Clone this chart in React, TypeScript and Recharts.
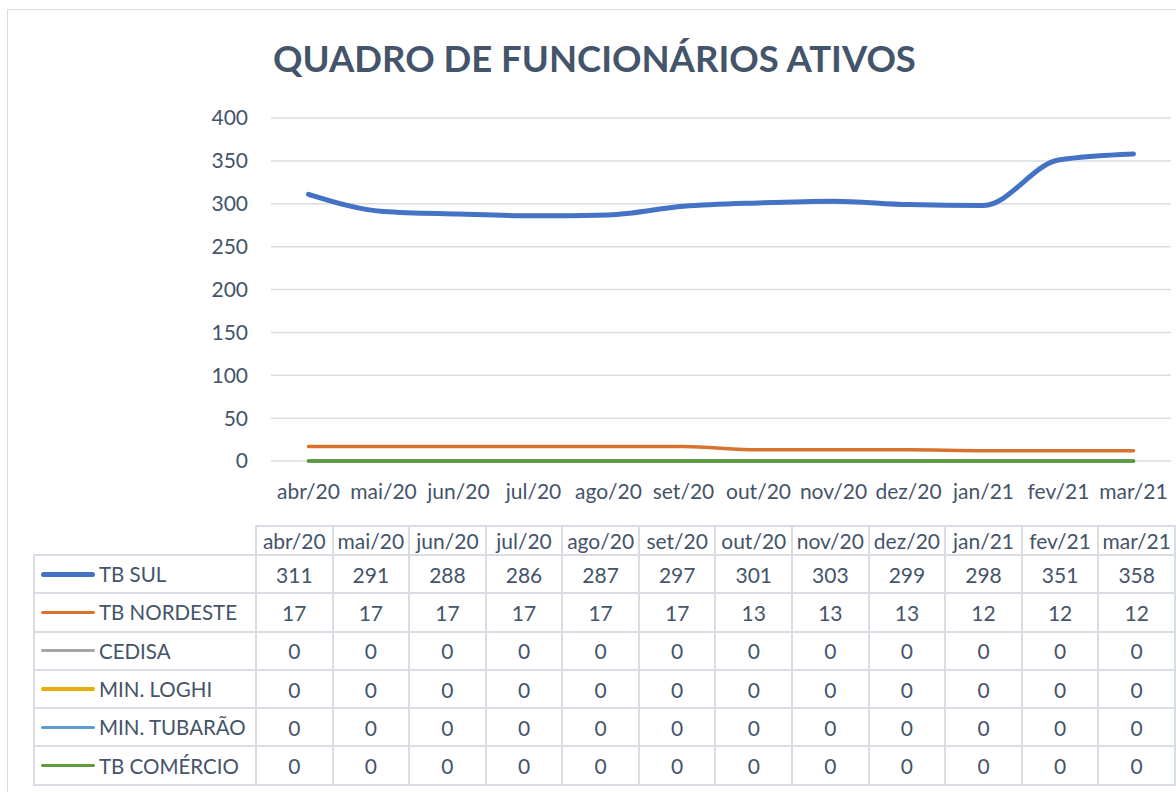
import React from 'react';
import { LineChart, Line, XAxis, YAxis, CartesianGrid } from 'recharts';

const months = ['abr/20', 'mai/20', 'jun/20', 'jul/20', 'ago/20', 'set/20', 'out/20', 'nov/20', 'dez/20', 'jan/21', 'fev/21', 'mar/21'];

const tbSul = [311, 291, 288, 286, 287, 297, 301, 303, 299, 298, 351, 358];
const tbNordeste = [17, 17, 17, 17, 17, 17, 13, 13, 13, 12, 12, 12];
const cedisa = [0, 0, 0, 0, 0, 0, 0, 0, 0, 0, 0, 0];
const minLoghi = [0, 0, 0, 0, 0, 0, 0, 0, 0, 0, 0, 0];
const minTubarao = [0, 0, 0, 0, 0, 0, 0, 0, 0, 0, 0, 0];
const tbComercio = [0, 0, 0, 0, 0, 0, 0, 0, 0, 0, 0, 0];

const yTicks = [0, 50, 100, 150, 200, 250, 300, 350, 400];

const TEXT = '#44546A';
const GRID = '#d9dde3';
const FONT = 'Lato, "Open Sans", sans-serif';

const SERIES = [
  { key: 'tbSul', name: 'TB SUL', color: '#4472C4', width: 5, values: tbSul },
  { key: 'tbNordeste', name: 'TB NORDESTE', color: '#D9712F', width: 3.5, values: tbNordeste },
  { key: 'cedisa', name: 'CEDISA', color: '#A5A5A5', width: 3.5, values: cedisa },
  { key: 'minLoghi', name: 'MIN. LOGHI', color: '#E8AD00', width: 3.5, values: minLoghi },
  { key: 'minTubarao', name: 'MIN. TUBARÃO', color: '#5B9BD5', width: 3.5, values: minTubarao },
  { key: 'tbComercio', name: 'TB COMÉRCIO', color: '#5E9C3A', width: 3.5, values: tbComercio },
];

// x position = middle of each month's slot, boundaries at whole numbers
const data = months.map((m, i) => {
  const row: Record<string, number | string> = { month: m, pos: i + 0.5 };
  SERIES.forEach((s) => {
    row[s.key] = s.values[i];
  });
  return row;
});

const labelTicks = months.map((_, i) => i + 0.5);
const edgeTicks = [...months.map((_, i) => i), months.length];

const cellBorder = `2px solid ${GRID}`;

export default function App() {
  return (
    <div
      style={{
        position: 'fixed',
        left: 0,
        top: 0,
        width: 1176,
        height: 792,
        overflow: 'hidden',
        background: '#fff',
        fontFamily: FONT,
        color: TEXT,
      }}
    >
      <div
        style={{
          position: 'absolute',
          left: 7,
          top: 9,
          width: 1200,
          height: 800,
          border: `1.5px solid ${GRID}`,
        }}
      />
      <div
        style={{
          position: 'absolute',
          left: 273,
          top: 40,
          fontSize: 36.5,
          lineHeight: '36px',
          fontWeight: 700,
          whiteSpace: 'nowrap',
          color: TEXT,
        }}
      >
        QUADRO DE FUNCIONÁRIOS ATIVOS
      </div>

      <div style={{ position: 'absolute', left: 0, top: 0 }}>
        <LineChart
          width={1176}
          height={510}
          data={data}
          margin={{ top: 118, right: 5, left: 0, bottom: 9 }}
        >
          <CartesianGrid horizontal vertical={false} stroke={GRID} strokeWidth={1.5} />
          <XAxis
            xAxisId="edges"
            dataKey="pos"
            type="number"
            domain={[0, months.length]}
            ticks={edgeTicks}
            tick={false}
            height={0}
            axisLine={{ stroke: GRID, strokeWidth: 1.5 }}
            tickLine={{ stroke: GRID, strokeWidth: 1.5 }}
            tickSize={7}
          />
          <XAxis
            xAxisId="labels"
            dataKey="pos"
            type="number"
            domain={[0, months.length]}
            ticks={labelTicks}
            tickFormatter={(v: number) => months[Math.floor(v)]}
            height={40}
            axisLine={false}
            tickLine={false}
            tickMargin={17}
            tick={{ fill: TEXT, fontSize: 21, fontFamily: FONT }}
            interval={0}
          />
          <YAxis
            domain={[0, 400]}
            ticks={yTicks}
            width={271}
            axisLine={false}
            tickLine={false}
            tickMargin={17}
            tick={{ fill: TEXT, fontSize: 21, fontFamily: FONT }}
            interval={0}
          />
          {SERIES.map((s) => (
            <Line
              key={s.key}
              xAxisId="edges"
              dataKey={s.key}
              name={s.name}
              type="monotone"
              stroke={s.color}
              strokeWidth={s.width}
              strokeLinecap="round"
              dot={false}
              activeDot={false}
              isAnimationActive={false}
            />
          ))}
        </LineChart>
      </div>

      <table
        style={{
          position: 'absolute',
          left: 33,
          top: 525,
          borderCollapse: 'collapse',
          tableLayout: 'fixed',
          width: 1143,
          fontSize: 21,
          color: TEXT,
          fontFamily: FONT,
        }}
      >
        <colgroup>
          <col style={{ width: 222 }} />
          {months.map((m) => (
            <col key={m} />
          ))}
        </colgroup>
        <thead>
          <tr style={{ height: 29 }}>
            <th style={{ border: 'none', borderBottom: cellBorder, borderRight: cellBorder }} />
            {months.map((m) => (
              <th
                key={m}
                style={{ border: cellBorder, fontWeight: 400, padding: 0, whiteSpace: 'nowrap', lineHeight: '24px' }}
              >
                {m}
              </th>
            ))}
          </tr>
        </thead>
        <tbody>
          {SERIES.map((s) => (
            <tr key={s.key} style={{ height: 38.3 }}>
              <td style={{ border: cellBorder, padding: 0, whiteSpace: 'nowrap' }}>
                <div style={{ display: 'flex', alignItems: 'center' }}>
                  <div
                    style={{
                      marginLeft: 6,
                      marginRight: 4,
                      width: 54,
                      height: s.width === 5 ? 5 : 3.5,
                      borderRadius: 3,
                      background: s.color,
                    }}
                  />
                  <span style={{ fontSize: 20.5 }}>{s.name}</span>
                </div>
              </td>
              {s.values.map((v, i) => (
                <td key={i} style={{ border: cellBorder, padding: 0, textAlign: 'center' }}>
                  {v}
                </td>
              ))}
            </tr>
          ))}
        </tbody>
      </table>
    </div>
  );
}
